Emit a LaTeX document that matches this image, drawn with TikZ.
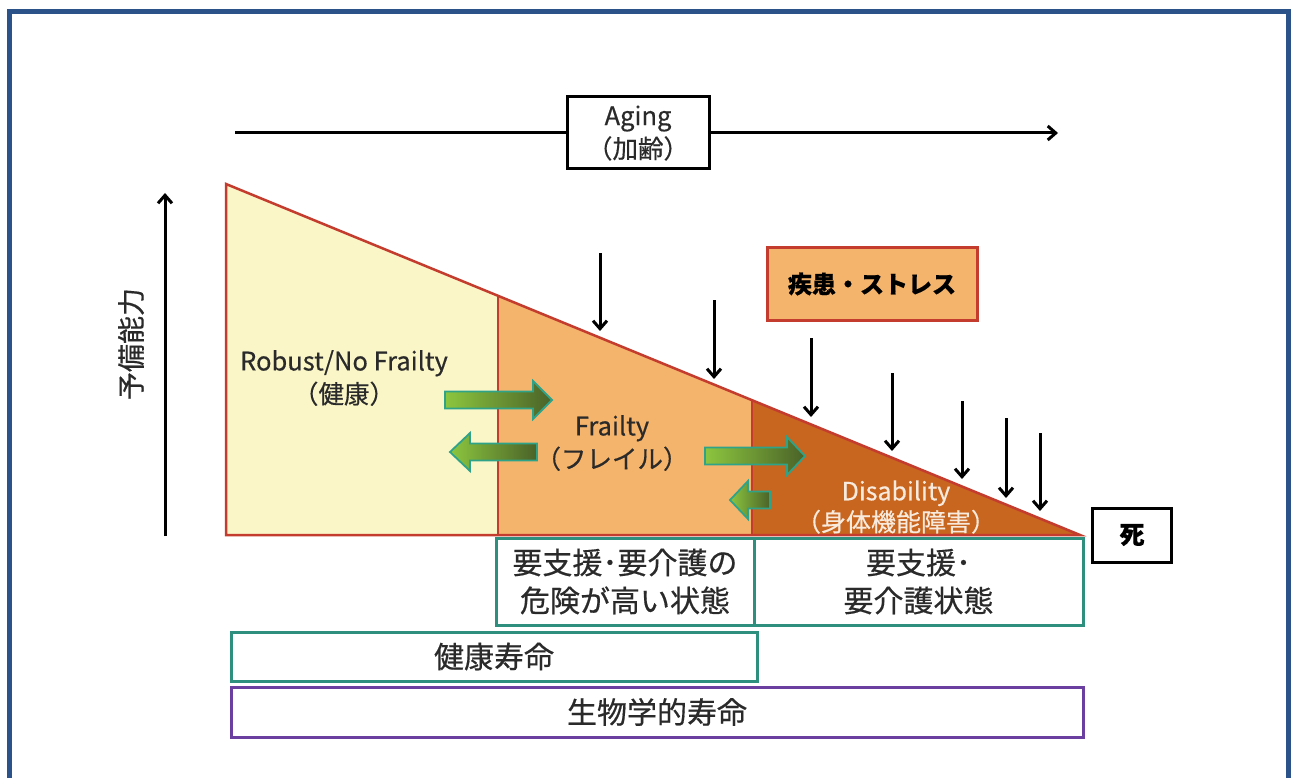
\documentclass[tikz,border=0pt]{standalone}
\usepackage{fontspec}
\setmainfont{Noto Sans CJK JP}[FakeBold=0.5]
\usetikzlibrary{arrows.meta,shadings}
\definecolor{frameblue}{HTML}{2B5289}
\definecolor{robustc}{HTML}{FAF6C8}
\definecolor{frailc}{HTML}{F5B46B}
\definecolor{disabc}{HTML}{C8651F}
\definecolor{redline}{HTML}{C43C2E}
\definecolor{tealc}{HTML}{2F8F7E}
\definecolor{purpc}{HTML}{6B3FA0}
\definecolor{glight}{HTML}{8CC63F}
\definecolor{gdark}{HTML}{4A6228}
\definecolor{gline}{HTML}{2FA389}
\definecolor{txt}{HTML}{2A2A2A}
\definecolor{distxt}{HTML}{F8EBDD}
\newcommand\gArrowShape[4]{%
  \path[draw=gline,line width=1.8pt,left color=glight,right color=gdark]
    (#1,#4-8.5) -- (#2,#4-8.5) -- (#2,#4-19) -- (#3,#4) -- (#2,#4+19) -- (#2,#4+8.5) -- (#1,#4+8.5) -- cycle;}
\tikzset{
  blk/.style={line width=3pt,-{Straight Barb[length=8pt,width=14pt,line width=3pt]}},
  lbl/.style={text=txt,align=center,font=\fontsize{25.5}{33}\selectfont,inner sep=0pt},
  tbox/.style={draw=tealc,line width=3pt,fill=white,inner sep=0pt,text=txt,align=center,font=\fontsize{30}{38}\selectfont},
}
\begin{document}
\begin{tikzpicture}[x=1pt,y=-1pt]
\useasboundingbox (0,0) rectangle (1292,778);
\fill[white] (0,0) rectangle (1292,778);
% outer frame
\draw[frameblue,line width=5pt] (9,778) -- (9,12) -- (1288,12) -- (1288,778);

% triangle regions
\coordinate (A) at (226,184);
\coordinate (B) at (226,535);
\coordinate (C) at (1080,535);
\coordinate (D1t) at (498,296);
\coordinate (D1b) at (498,535);
\coordinate (D2t) at (752,400);
\coordinate (D2b) at (752,535);
\fill[robustc] (A) -- (D1t) -- (D1b) -- (B) -- cycle;
\fill[frailc] (D1t) -- (D2t) -- (D2b) -- (D1b) -- cycle;
\fill[disabc] (D2t) -- (C) -- (D2b) -- cycle;
\draw[redline,line width=2.5pt] (D1t) -- (D1b) (D2t) -- (D2b);
\draw[redline,line width=2.5pt,line join=miter] (A) -- (C) -- (B) -- cycle;

% Aging arrow
\node[draw=black,line width=3pt,fill=white,minimum width=142pt,minimum height=72pt,inner sep=0pt,
  align=center,text=txt,font=\fontsize{25.5}{33}\selectfont] (aging) at (638,133) {Aging\\（加齢）};
\coordinate (agS) at (235,133);
\coordinate (agE) at (1058,133);
\draw[line width=3pt] (agS) -- (aging.west);
\draw[blk] (aging.east) -- (agE);

% vertical axis
\coordinate (vS) at (165,536);
\coordinate (vE) at (165,193);
\draw[blk] (vS) -- (vE);
\node[lbl,rotate=90,font=\fontsize{28}{30}\selectfont] (yobi) at (131,344) {予備能力};

% region labels
\node[lbl] (robust) at (344,378) {Robust/No Frailty\\（健康）};
\node[lbl] (frailty) at (612,443) {Frailty\\（フレイル）};
\node[lbl,text=distxt,font=\fontsize{25}{31}\selectfont] (disab) at (896,507) {Disability\\（身体機能障害）};

% green arrows
\gArrowShape{445}{533}{552}{400}
\gArrowShape{537}{470}{450}{452}
\gArrowShape{705}{787}{805}{456}
\gArrowShape{770}{748}{730}{500}

% disease box
\node[draw=redline,line width=3pt,fill=frailc,minimum width=210pt,minimum height=73pt,inner sep=0pt,
  text=black,font=\bfseries\fontsize{24}{28}\selectfont] (stress) at (872,284) {疾患・ストレス};

% down arrows
\coordinate (s1) at (600,253); \coordinate (e1) at (600,331);
\coordinate (s2) at (714,300); \coordinate (e2) at (714,379);
\coordinate (s3) at (811,338); \coordinate (e3) at (811,417);
\coordinate (s4) at (892,373); \coordinate (e4) at (892,451);
\coordinate (s5) at (962,401); \coordinate (e5) at (962,479);
\coordinate (s6) at (1006,418); \coordinate (e6) at (1006,498);
\coordinate (s7) at (1040,433); \coordinate (e7) at (1040,511);
\foreach \i in {1,...,7} \draw[blk] (s\i) -- (e\i);

% death
\node[draw=black,line width=3pt,fill=white,minimum width=79pt,minimum height=54pt,inner sep=0pt,
  text=black,font=\bfseries\fontsize{25}{28}\selectfont] (death) at (1132,535) {死};

% bottom boxes
\node[tbox,minimum width=258pt,minimum height=87pt] (risk) at (625,581.5) {要支援･要介護の\\危険が高い状態};
\node[tbox,minimum width=329pt,minimum height=87pt] (care) at (918.5,581.5) {要支援･\\要介護状態};
\node[tbox,minimum width=526pt,minimum height=49pt] (healthy) at (494,656.5) {健康寿命};
\node[tbox,draw=purpc,minimum width=852pt,minimum height=50pt] (bio) at (657,712) {生物学的寿命};
\end{tikzpicture}
\end{document}
